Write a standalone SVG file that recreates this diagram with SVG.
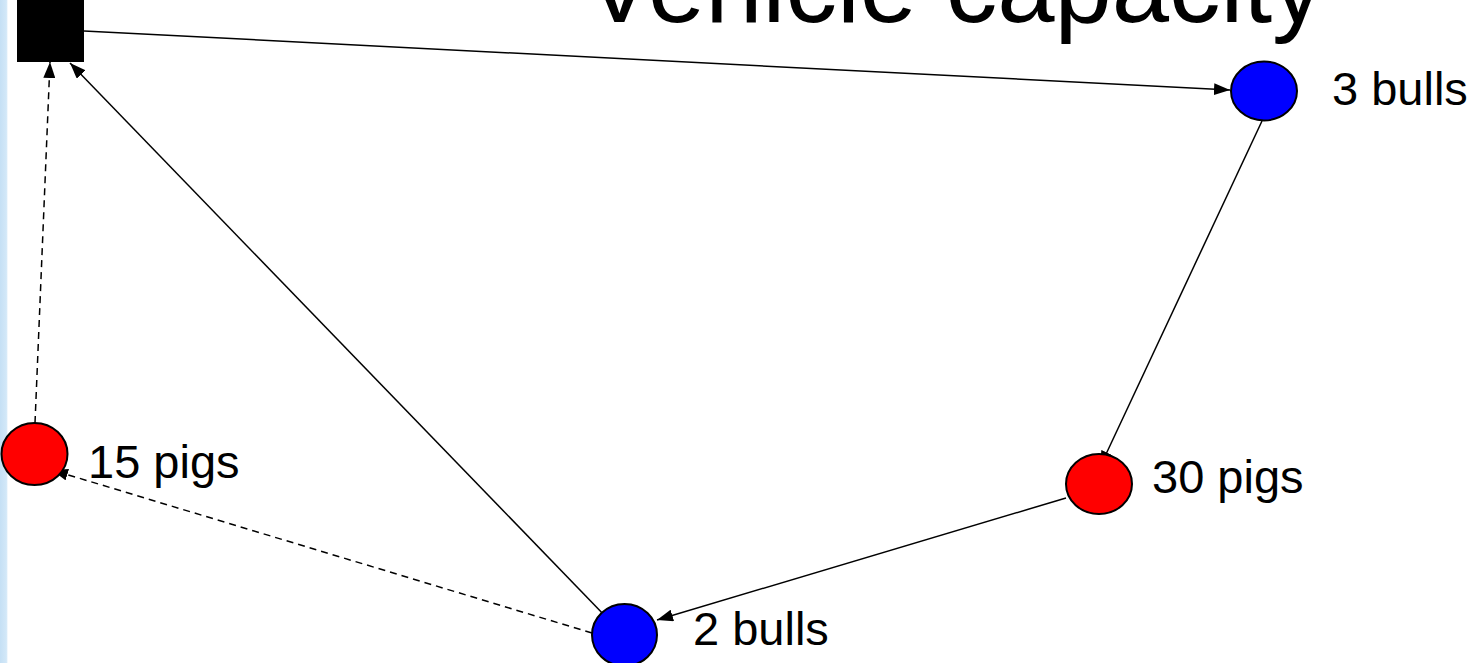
<svg xmlns="http://www.w3.org/2000/svg" width="1477" height="663" viewBox="0 0 1477 663">
<style>
.lbl{font-family:"Liberation Sans",Arial,sans-serif;font-size:47px;fill:#000}
.title{font-family:"Liberation Sans",Arial,sans-serif;font-size:103px;fill:#000}
.edge{stroke:#000;stroke-width:1.5;fill:none;marker-end:url(#ah)}
.dash{stroke-dasharray:7,5}
.node{stroke:#000;stroke-width:2}
</style>
<defs>
<marker id="ah" viewBox="0 0 16 12" refX="16" refY="6" markerWidth="16" markerHeight="12" markerUnits="userSpaceOnUse" orient="auto">
<path d="M0,0 L16,6 L0,12 Z" fill="#000"/>
</marker>
<linearGradient id="band" x1="0" x2="1" y1="0" y2="0">
<stop offset="0" stop-color="#c5e0f5"/>
<stop offset="0.8" stop-color="#d3e8f8"/>
<stop offset="1" stop-color="#ffffff"/>
</linearGradient>
</defs>
<rect x="0" y="0" width="1477" height="663" fill="#fff"/>
<rect x="0" y="0" width="8" height="663" fill="url(#band)"/>
<text class="title" x="585" y="22">Vehicle capacity</text>
<g id="connectors">
<line class="edge" x1="84" y1="31" x2="1230" y2="90"/>
<line class="edge" x1="1262" y1="121" x2="1100" y2="467"/>
<line class="edge" x1="1066" y1="498" x2="657" y2="620"/>
<line class="edge" x1="608" y1="619" x2="70" y2="63"/>
<line class="edge dash" x1="592" y1="633" x2="52" y2="470"/>
<line class="edge dash" x1="35" y1="423" x2="50" y2="62"/>
</g>
<g id="depot"><rect x="17" y="-2" width="67" height="64" fill="#000"/></g>
<g id="bulls3"><ellipse class="node" cx="1264" cy="91" rx="33" ry="29.5" fill="#0000ff"/><text class="lbl" x="1332" y="105">3 bulls</text></g>
<g id="pigs30"><ellipse class="node" cx="1099" cy="484" rx="33" ry="30" fill="#ff0000"/><text class="lbl" x="1152" y="493">30 pigs</text></g>
<g id="bulls2"><ellipse class="node" cx="624.5" cy="635" rx="32.5" ry="31" fill="#0000ff"/><text class="lbl" x="693" y="645">2 bulls</text></g>
<g id="pigs15"><ellipse class="node" cx="34.5" cy="454" rx="33" ry="31" fill="#ff0000"/><text class="lbl" x="88" y="478">15 pigs</text></g>
</svg>
